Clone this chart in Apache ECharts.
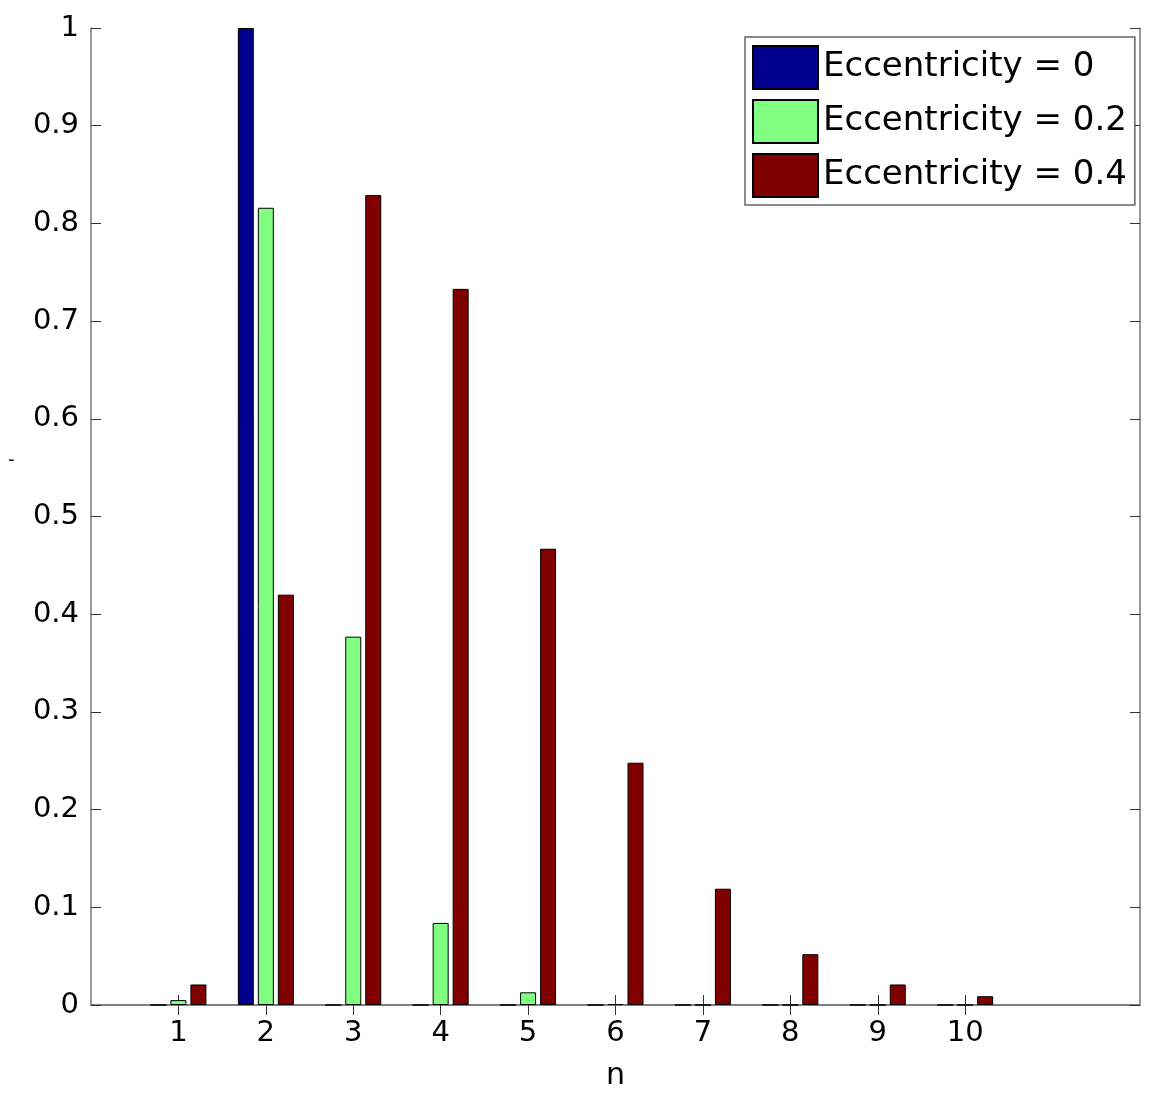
<!DOCTYPE html>
<html>
<head>
<meta charset="utf-8">
<script src="https://cdn.jsdelivr.net/npm/echarts@6/dist/echarts.min.js"></script>
<style>html,body{margin:0;padding:0;background:#fff;}#c{width:1152px;height:1100px;}</style>
</head>
<body>
<div id="c"></div>
<script>
// Harmonic number n (tick labels) and the padded axis positions 0..12
const nLabels = ['1','2','3','4','5','6','7','8','9','10'];
const axisCats = ['0'].concat(nLabels, ['11','12']);
const seriesNames = ['Eccentricity = 0', 'Eccentricity = 0.2', 'Eccentricity = 0.4'];
const ecc0 = [0, 1.0, 0, 0, 0, 0, 0, 0, 0, 0];
const ecc02 = [0.005, 0.816, 0.377, 0.084, 0.013, 0.001, 0, 0, 0, 0];
const ecc04 = [0.021, 0.42, 0.829, 0.733, 0.467, 0.248, 0.119, 0.052, 0.021, 0.009];
const colors = ['#00008f', '#80ff80', '#800000'];

const pad = arr => [null].concat(arr, [null, null]);
const showIdx = (i) => i >= 1 && i <= 10;

const chart = echarts.init(document.getElementById('c'));
const FONT = 'DejaVu Sans';
chart.setOption({
  animation: false,
  backgroundColor: '#fff',
  textStyle: { fontFamily: FONT },
  grid: { left: 91, right: 12, top: 28, bottom: 95, containLabel: false },
  legend: {
    data: seriesNames,
    orient: 'vertical',
    left: 745, top: 37,
    padding: [8, 8, 7, 7],
    itemWidth: 65, itemHeight: 43, itemGap: 9,
    icon: 'rect',
    backgroundColor: '#fff',
    borderColor: '#666', borderWidth: 1.5,
    textStyle: { fontSize: 34, color: '#000', fontFamily: FONT }
  },
  xAxis: [{
    type: 'category', data: axisCats, boundaryGap: false,
    axisLine: { show: true, lineStyle: { color: '#777', width: 1.5 } },
    axisTick: { show: true, inside: true, length: 10, lineStyle: { color: '#333' }, interval: (i) => showIdx(i) },
    axisLabel: { interval: (i) => showIdx(i), fontSize: 29, color: '#000', margin: 14 },
    splitLine: { show: false },
    name: 'n', nameLocation: 'middle', nameGap: 56,
    nameTextStyle: { fontSize: 30, color: '#000' }
  }, {
    type: 'category', data: axisCats, boundaryGap: false, position: 'top',
    axisLine: { show: true, lineStyle: { color: '#777', width: 1.5 } },
    axisTick: { show: true, inside: true, length: 10, lineStyle: { color: '#333' }, interval: (i) => showIdx(i) },
    axisLabel: { show: false }, splitLine: { show: false }
  }],
  yAxis: [{
    type: 'value', min: 0, max: 1, interval: 0.1,
    axisLine: { show: true, lineStyle: { color: '#777', width: 1.5 } },
    axisTick: { show: true, inside: true, length: 10, lineStyle: { color: '#333' } },
    axisLabel: { fontSize: 29, color: '#000', margin: 12 },
    splitLine: { show: false }
  }, {
    type: 'value', min: 0, max: 1, interval: 0.1, position: 'right',
    axisLine: { show: true, lineStyle: { color: '#777', width: 1.5 } },
    axisTick: { show: true, inside: true, length: 10, lineStyle: { color: '#333' } },
    axisLabel: { show: false }, splitLine: { show: false }
  }],
  graphic: [{ type: 'text', left: 8, top: 450, style: { text: '-', fontSize: 20, fill: '#222', font: '20px DejaVu Sans' } }],
  series: [ecc0, ecc02, ecc04].map((d, k) => ({
    name: seriesNames[k], type: 'bar', xAxisIndex: 0, yAxisIndex: 0,
    data: pad(d), barWidth: 16, barGap: '25%',
    itemStyle: { color: colors[k], borderColor: '#000', borderWidth: 1 }
  }))
});
</script>
</body>
</html>
